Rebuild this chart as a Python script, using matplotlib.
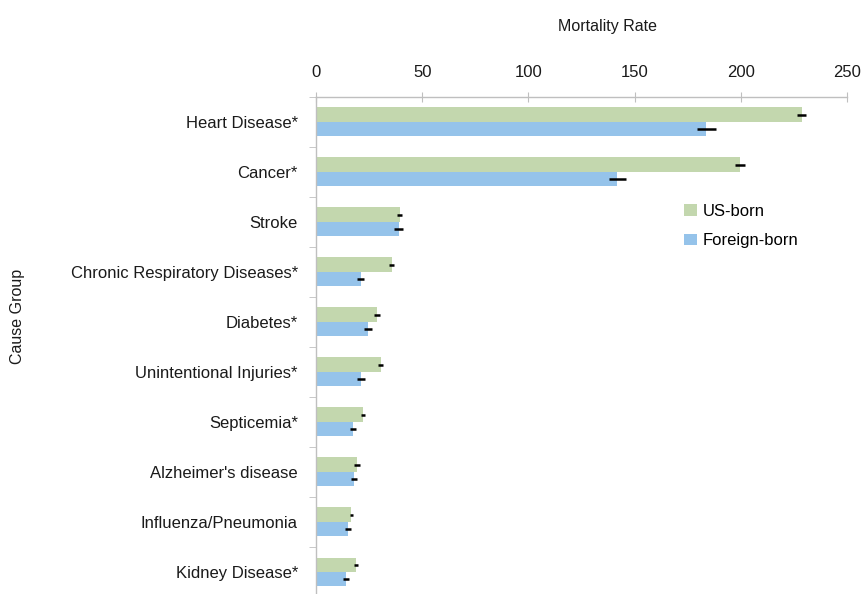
import numpy as np
import matplotlib
matplotlib.use("Agg")
import matplotlib.pyplot as plt
from matplotlib.ticker import FixedLocator

#
# Data
#
causes = ["Heart Disease*", "Cancer*", "Stroke", "Chronic Respiratory Diseases*",
          "Diabetes*", "Unintentional Injuries*", "Septicemia*",
          "Alzheimer's disease", "Influenza/Pneumonia", "Kidney Disease*"]
us_born = [228.6, 199.5, 39.4, 35.6, 28.7, 30.4, 22.1, 19.3, 16.5, 18.8]
us_err = [2.3, 2.4, 1.2, 1.1, 1.2, 1.2, 0.9, 1.2, 0.7, 0.9]
foreign_born = [183.8, 141.9, 38.9, 21.0, 24.5, 21.2, 17.4, 17.9, 15.1, 14.1]
foreign_err = [4.4, 3.9, 2.2, 1.8, 2.1, 1.9, 1.6, 1.4, 1.6, 1.4]
xticks = [0, 50, 100, 150, 200, 250]

GREEN = "#c3d7ae"
BLUE = "#95c3ea"
GREY = "#bfbfbf"

plt.rcParams['font.family'] = ['Liberation Sans', 'DejaVu Sans']

W, H = 865, 594
fig = plt.figure(figsize=(W / 100, H / 100), dpi=100)

# axes box in pixels
left, right, top, bottom = 316, 847, 97, 597
ax = fig.add_axes([left / W, 1 - bottom / H, (right - left) / W, (bottom - top) / H])

y = np.arange(len(causes))
h = 0.29
ax.barh(y - h / 2, us_born, height=h, color=GREEN, label="US-born", zorder=2)
ax.barh(y + h / 2, foreign_born, height=h, color=BLUE, label="Foreign-born", zorder=2)
ax.errorbar(us_born, y - h / 2, xerr=us_err, fmt="none", ecolor="black",
            elinewidth=1.8, capsize=0, zorder=3)
ax.errorbar(foreign_born, y + h / 2, xerr=foreign_err, fmt="none", ecolor="black",
            elinewidth=1.8, capsize=0, zorder=3)

ax.set_xlim(0, 250)
ax.set_ylim(len(causes) - 0.5, -0.5)
ax.set_xticks(xticks)
ax.xaxis.tick_top()
ax.set_yticks(y)
ax.set_yticklabels(causes)
ax.yaxis.set_minor_locator(FixedLocator(np.arange(-0.5, len(causes), 1.0)))

for s in ["right", "bottom"]:
    ax.spines[s].set_visible(False)
for s in ["top", "left"]:
    ax.spines[s].set_color(GREY)
    ax.spines[s].set_linewidth(1.0)

ax.tick_params(axis="x", which="major", direction="inout", length=7, color=GREY,
               labelsize=12, pad=9, labelcolor="#1a1a1a")
ax.tick_params(axis="y", which="major", length=0, pad=13, labelsize=12, labelcolor="#1a1a1a")
ax.tick_params(axis="y", which="minor", direction="out", length=5, color=GREY)

# Titles
fig.text(608 / W, 1 - 27 / H, "Mortality Rate", ha="center", va="center", fontsize=11.5, color="#1a1a1a")
fig.text(18 / W, 1 - 316 / H, "Cause Group", ha="center", va="center", rotation=90,
         fontsize=11.5, color="#1a1a1a")

# Legend
ax.legend(loc="upper left", bbox_to_anchor=(684 / W, 1 - 204 / H), bbox_transform=fig.transFigure,
          frameon=False, fontsize=12, handlelength=0.75, handleheight=0.7,
          handletextpad=0.35, labelspacing=0.85, borderpad=0, borderaxespad=0)

fig.savefig("out.png", dpi=100)
